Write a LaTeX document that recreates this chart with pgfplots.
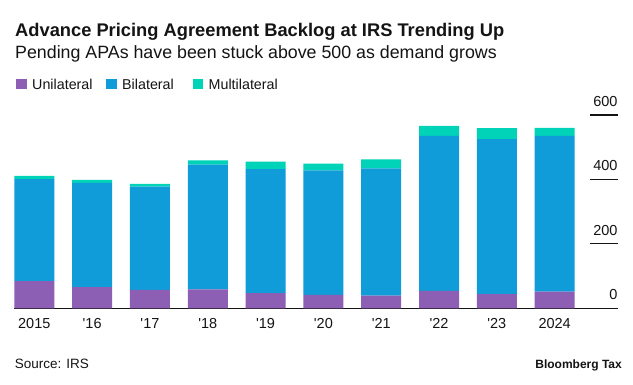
\documentclass[border=0pt]{standalone}
\usepackage{fontspec}
\setmainfont{Liberation Sans}
\usepackage{pgfplots}
\pgfplotsset{compat=1.18}
\definecolor{cuni}{RGB}{140,94,180}
\definecolor{cbil}{RGB}{16,155,217}
\definecolor{cmul}{RGB}{0,211,184}
\definecolor{ctxt}{RGB}{20,20,20}
\begin{document}
\begin{tikzpicture}[x=1pt,y=1pt]
\path[use as bounding box, fill=white] (0,0) rectangle (633,385);
\begin{axis}[
  at={(14.3pt,76.7pt)}, anchor=south west,
  scale only axis, width=603.4pt, height=193.3pt,
  ybar stacked, bar width=40pt,
  xmin=-0.346, xmax=10.09, ymin=0, ymax=600,
  axis x line*=bottom, axis y line*=right,
  x axis line style={-, draw=ctxt, line width=1.1pt},
  y axis line style={draw=none},
  xtick={0,...,9},
  xticklabels={2015,\textquotesingle16,\textquotesingle17,\textquotesingle18,\textquotesingle19,\textquotesingle20,\textquotesingle21,\textquotesingle22,\textquotesingle23,2024},
  xtick style={draw=none},
  ytick={0,200,400,600},
  ytick style={draw=none},
  /pgf/number format/assume math mode=true,
  xticklabel style={anchor=base, yshift=-20pt, font=\fontsize{14.5}{16}\selectfont, text=ctxt},
  yticklabel style={anchor=base east, inner xsep=0pt, yshift=8.5pt, font=\fontsize{14.5}{16}\selectfont, text=ctxt},
  clip=false,
]
\addplot[fill=cuni, draw=none] coordinates {(0,84) (1,66) (2,57) (3,59) (4,47) (5,42) (6,39) (7,54) (8,44) (9,52)};
\addplot[fill=cbil, draw=none] coordinates {(0,317) (1,323) (2,321) (3,387) (4,385) (5,386) (6,395) (7,481) (8,481) (9,483)};
\addplot[fill=cmul, draw=none] coordinates {(0,10) (1,10) (2,8) (3,13) (4,23) (5,21) (6,28) (7,31) (8,34) (9,25)};
\end{axis}
\fill[ctxt] (590,269.4) rectangle (617.7,270.6);
\fill[ctxt] (590,205) rectangle (617.7,206.2);
\fill[ctxt] (590,140.5) rectangle (617.7,141.7);
\node[anchor=base west, inner sep=0pt, text=ctxt, font=\fontsize{18.3}{20}\selectfont\bfseries] at (15,348.3) {Advance Pricing Agreement Backlog at IRS Trending Up};
\node[anchor=base west, inner sep=0pt, text=ctxt, font=\fontsize{17.8}{20}\selectfont] at (15,326.7) {Pending APAs have been stuck above 500 as demand grows};
\fill[cuni] (16,296) rectangle (26.5,306.3);
\node[anchor=base west, inner sep=0pt, text=ctxt, font=\fontsize{14.3}{16}\selectfont] at (32,295.7) {Unilateral};
\fill[cbil] (106.3,296) rectangle (116.8,306.3);
\node[anchor=base west, inner sep=0pt, text=ctxt, font=\fontsize{14.3}{16}\selectfont] at (122,295.7) {Bilateral};
\fill[cmul] (192.7,296) rectangle (203.2,306.3);
\node[anchor=base west, inner sep=0pt, text=ctxt, font=\fontsize{14.3}{16}\selectfont] at (208.5,295.7) {Multilateral};
\node[anchor=base west, inner sep=0pt, text=ctxt, font=\fontsize{13.5}{15}\selectfont] at (14.6,16.7) {Source: IRS};
\node[anchor=base east, inner sep=0pt, text=ctxt, font=\fontsize{12}{14}\selectfont\bfseries] at (622,16.7) {Bloomberg Tax};
\end{tikzpicture}
\end{document}
